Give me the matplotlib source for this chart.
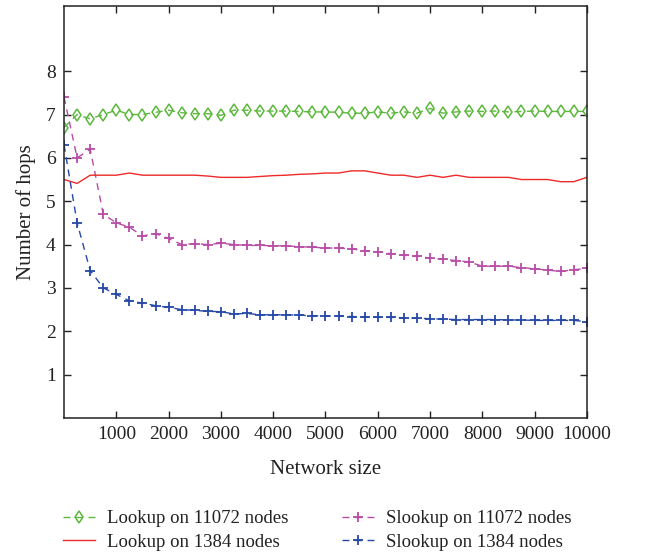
import matplotlib
matplotlib.use("Agg")
import matplotlib.pyplot as plt

plt.rcParams['font.family'] = ['Liberation Serif', 'DejaVu Serif']

# Netzwerkgroessen (0 .. 10000 in 250er Schritten)
network_size = [i * 250 for i in range(41)]

lookup_11072 = [6.7, 7.0, 6.9, 7.0, 7.1, 7.0, 7.0, 7.05, 7.1, 7.04,
                7.02, 7.02, 6.98, 7.1, 7.1, 7.08, 7.08, 7.08, 7.07, 7.06,
                7.06, 7.05, 7.03, 7.03, 7.06, 7.03, 7.06, 7.03, 7.14, 7.03,
                7.06, 7.08, 7.07, 7.08, 7.06, 7.07, 7.08, 7.07, 7.07, 7.07,
                7.07]

lookup_1384 = [5.5, 5.41, 5.6, 5.6, 5.6, 5.65, 5.6, 5.6, 5.6, 5.6,
               5.6, 5.58, 5.55, 5.55, 5.55, 5.57, 5.59, 5.6, 5.62, 5.63,
               5.65, 5.65, 5.7, 5.7, 5.65, 5.6, 5.6, 5.55, 5.6, 5.55,
               5.6, 5.55, 5.55, 5.55, 5.55, 5.5, 5.5, 5.5, 5.45, 5.45,
               5.55]

slookup_11072 = [7.4, 6.0, 6.2, 4.7, 4.5, 4.4, 4.2, 4.25, 4.14, 4.0,
                 4.02, 4.0, 4.03, 4.0, 3.98, 3.98, 3.97, 3.97, 3.95, 3.94,
                 3.92, 3.92, 3.9, 3.86, 3.83, 3.79, 3.75, 3.73, 3.69, 3.66,
                 3.63, 3.6, 3.5, 3.5, 3.5, 3.47, 3.44, 3.41, 3.38, 3.42,
                 3.45]

slookup_1384 = [6.3, 4.5, 3.4, 3.0, 2.85, 2.7, 2.65, 2.59, 2.55, 2.5,
                2.48, 2.46, 2.45, 2.4, 2.41, 2.38, 2.38, 2.38, 2.37, 2.36,
                2.35, 2.35, 2.34, 2.33, 2.32, 2.32, 2.31, 2.3, 2.29, 2.28,
                2.27, 2.27, 2.27, 2.27, 2.26, 2.26, 2.25, 2.25, 2.25, 2.25,
                2.22]

x_ticks = [1000, 2000, 3000, 4000, 5000, 6000, 7000, 8000, 9000, 10000]
y_ticks = [1, 2, 3, 4, 5, 6, 7, 8]

fig = plt.figure(figsize=(6.47, 5.58), dpi=100)
ax = fig.add_axes([0.099, 0.251, 0.808, 0.738])

ax.plot(network_size, lookup_11072, color='#5cb83c', linestyle=(0, (5, 4)),
        linewidth=1, marker='d', markersize=6, markerfacecolor='none',
        markeredgewidth=1.1, label='Lookup on 11072 nodes')
ax.plot(network_size, slookup_11072, color='#b84ca6', linestyle=(0, (5, 4)),
        linewidth=1, marker='+', markersize=7, markeredgewidth=1.3,
        label='Slookup on 11072 nodes')
ax.plot(network_size, lookup_1384, color='#ee2a2a', linestyle='-',
        linewidth=1, label='Lookup on 1384 nodes')
ax.plot(network_size, slookup_1384, color='#2648a6', linestyle=(0, (5, 4)),
        linewidth=1, marker='+', markersize=7, markeredgewidth=1.3,
        label='Slookup on 1384 nodes')

ax.set_xlim(0, 10000)
ax.set_ylim(0, 9.5)
ax.set_xticks(x_ticks)
ax.set_yticks(y_ticks)
ax.tick_params(direction='in', top=True, right=True, length=5, width=1,
               labelsize=14, colors='#222222', pad=6)
for s in ax.spines.values():
    s.set_linewidth(1.1)
    s.set_color('#222222')

ax.set_xlabel('Network size', fontsize=15, color='#222222', labelpad=12)
ax.set_ylabel('Number of hops', fontsize=15, color='#222222', labelpad=7)

handles, labels = ax.get_legend_handles_labels()
# Reihenfolge wie im Original: links Lookup, rechts Slookup
order = [0, 2, 1, 3]
fig.legend([handles[i] for i in order], [labels[i] for i in order],
           loc='lower left', bbox_to_anchor=(0.097, 0.013), ncol=2,
           frameon=False, fontsize=13.5, handlelength=1.7, columnspacing=2.9,
           labelspacing=0.33, handletextpad=0.64, borderpad=0,
           borderaxespad=0, labelcolor='#222222')

fig.savefig('out.png', dpi=100)
